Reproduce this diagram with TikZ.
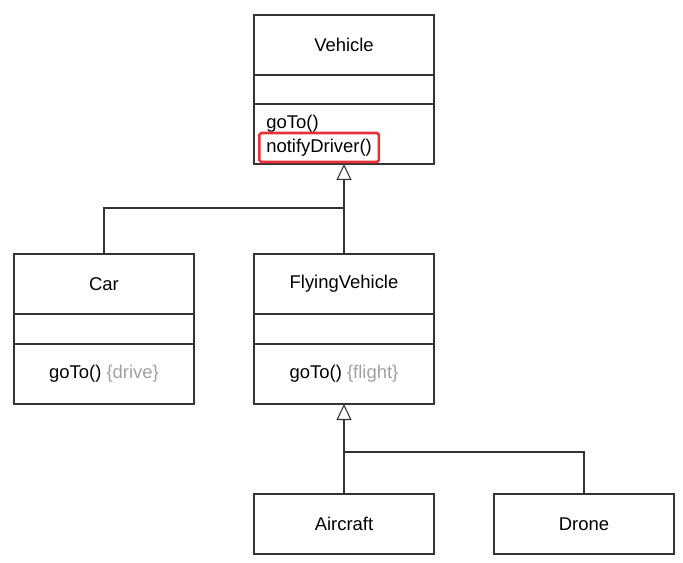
\documentclass[tikz,border=0pt]{standalone}
\usepackage{fontspec}
\setmainfont{Liberation Sans}
\usetikzlibrary{arrows.meta,positioning}

\definecolor{edgegray}{HTML}{333333}
\definecolor{notegray}{HTML}{A0A0A0}
\definecolor{markred}{HTML}{E83038}

\begin{document}
\begin{tikzpicture}[x=0.02cm,y=-0.02cm]
			\tikzstyle{Box}		= [rectangle, draw=edgegray, line width=0.6pt, minimum width=3.6cm, inner sep=0pt, outer sep=0pt, font=\fontsize{10.5}{12.6}\selectfont]
			\tikzstyle{Head}	= [minimum height=1.2cm]
			\tikzstyle{Attr}	= [minimum height=0.6cm]
			\tikzstyle{Meth}	= [minimum height=1.2cm]
			\tikzstyle{Txt}		= [inner sep=0pt, font=\fontsize{10.5}{12.6}\selectfont]
			\tikzstyle{Mark}	= [draw=markred, line width=1.5pt, rounded corners=1pt, inner xsep=0.14cm, minimum height=0.52cm, font=\fontsize{10.5}{12.6}\selectfont]
			\tikzstyle{Note}	= [notegray]
			\tikzstyle{Link}	= [draw=edgegray, line width=0.6pt]
			\tikzstyle{Gen}		= [-{Triangle[open, width=0.3cm, length=0.32cm, fill=white]}]

			\useasboundingbox (0,0) rectangle (683,562);

			% Vehicle
			\node (veh) at (344,45) [Box][Head] {Vehicle};
			\node (vehA) at (344,89.5) [Box][Attr] {};
			\node (vehM) at (344,134) [Box][Meth] {};
			\node (vehGo) at (266,123.5) [Txt, anchor=west] {goTo()};
			\node (vehNotify) at (258,147.5) [Mark, anchor=west] {notifyDriver()};

			% Car
			\node (car) at (104,284) [Box][Head] {Car};
			\node (carA) at (104,329) [Box][Attr] {};
			\node (carM) at (104,374) [Box][Meth] {goTo() \textcolor{notegray}{\{drive\}}};

			% FlyingVehicle
			\node (fly) at (344,284) [Box][Head] {FlyingVehicle};
			\node (flyA) at (344,329) [Box][Attr] {};
			\node (flyM) at (344,374) [Box][Meth] {goTo() \textcolor{notegray}{\{flight\}}};

			% Aircraft, Drone
			\node (air) at (344,524) [Box][Head] {Aircraft};
			\node (drone) at (584,524) [Box][Head] {Drone};

			\coordinate (upJoin) at (344,208);
			\coordinate (lowJoin) at (344,452);

			\draw [Gen] (fly.north) to (vehM.south) [Link];
			\draw [-] (car.north) |- (upJoin) [Link];
			\draw [Gen] (air.north) to (flyM.south) [Link];
			\draw [-] (drone.north) |- (lowJoin) [Link];
		\end{tikzpicture}
\end{document}
